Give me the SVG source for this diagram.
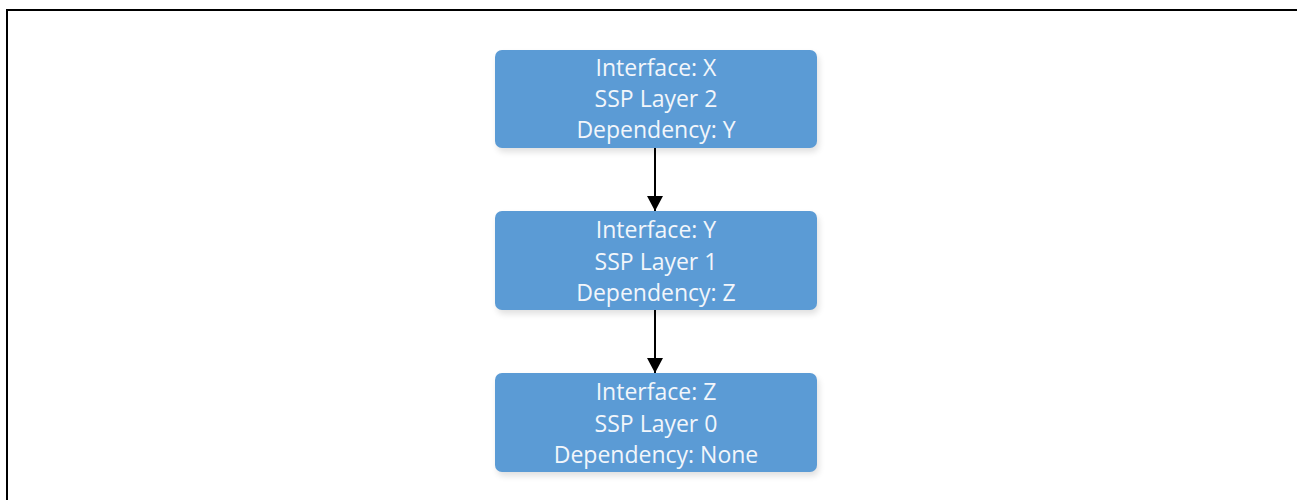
<svg xmlns="http://www.w3.org/2000/svg" width="1297" height="500" viewBox="0 0 1297 500">
<style>
.box{fill:#5B9BD5;}
.shadow{fill:#000;opacity:0.12;}
.t{font-family:"Open Sans","Liberation Sans",Arial,sans-serif;font-size:23px;font-weight:500;fill:#F2F6FB;text-anchor:middle;}
.conn{stroke:#000;stroke-width:2;fill:none;}
</style>
<defs>
<filter id="sh" x="-10%" y="-10%" width="120%" height="140%"><feGaussianBlur stdDeviation="3"/></filter>
<marker id="ah" markerWidth="15" markerHeight="16" refX="15" refY="8" orient="auto" markerUnits="userSpaceOnUse"><path d="M0,0 L15,8 L0,16 Z" fill="#000"/></marker>
</defs>
<rect width="1297" height="500" fill="#fff"/>
<path d="M7,500 V10 H1297" fill="none" stroke="#000" stroke-width="2"/>
<g id="node-x">
<rect x="497" y="54" width="322" height="98" rx="7" class="shadow" filter="url(#sh)"/>
<rect x="495" y="50" width="322" height="98" rx="7" class="box"/>
<text class="t" x="656" y="76">Interface: X</text>
<text class="t" x="656" y="107">SSP Layer 2</text>
<text class="t" x="656" y="138">Dependency: Y</text>
</g>
<g id="node-y">
<rect x="497" y="215" width="322" height="99" rx="7" class="shadow" filter="url(#sh)"/>
<rect x="495" y="211" width="322" height="99" rx="7" class="box"/>
<text class="t" x="656" y="238">Interface: Y</text>
<text class="t" x="656" y="270">SSP Layer 1</text>
<text class="t" x="656" y="301">Dependency: Z</text>
</g>
<g id="node-z">
<rect x="497" y="377" width="322" height="99" rx="7" class="shadow" filter="url(#sh)"/>
<rect x="495" y="373" width="322" height="99" rx="7" class="box"/>
<text class="t" x="656" y="400">Interface: Z</text>
<text class="t" x="656" y="432">SSP Layer 0</text>
<text class="t" x="656" y="463">Dependency: None</text>
</g>
<g id="connectors">
<line class="conn" x1="655" y1="148" x2="655" y2="211" marker-end="url(#ah)"/>
<line class="conn" x1="655" y1="310" x2="655" y2="373" marker-end="url(#ah)"/>
</g>
</svg>
